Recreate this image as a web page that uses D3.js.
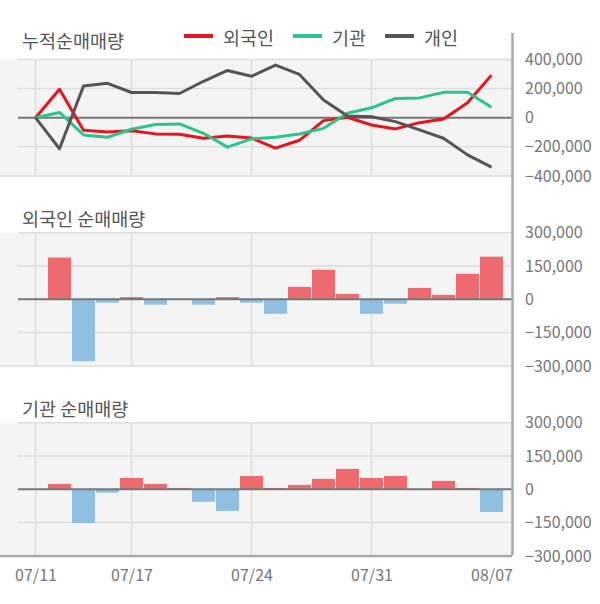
<!DOCTYPE html>
<html><head><meta charset="utf-8">
<script src="https://cdn.jsdelivr.net/npm/d3@7"></script>
<style>body{margin:0;background:#fff}svg{display:block}text{font-family:"Noto Sans CJK KR","Noto Sans",sans-serif}</style>
</head><body><svg id="c" width="600" height="604"></svg>
<script>
const dates = ["07/11","07/12","07/15","07/16","07/17","07/18","07/19","07/22","07/23","07/24","07/25","07/26","07/29","07/30","07/31","08/01","08/02","08/05","08/06","08/07"];
const tickDates = ["07/11","07/17","07/24","07/31","08/07"];
const gridDates = ["07/11","07/17","07/24","07/31"];
const foreignCum = [0,195000,-86000,-98000,-90000,-111000,-113000,-141000,-125000,-140000,-209000,-155000,-20000,3000,-50000,-77000,-34000,-9000,102000,292000];
const instCum = [0,36000,-118000,-134000,-79000,-47000,-43000,-107000,-202000,-145000,-134000,-112000,-73000,30000,68000,132000,136000,174000,174000,71000];
const indivCum = [0,-213000,217000,236000,173000,173000,166000,250000,324000,284000,361000,297000,121000,12000,7000,-27000,-84000,-141000,-255000,-339000];
const foreignNet = [null,188000,-279000,-15000,10000,-24000,null,-24000,10000,-15000,-65000,56000,133000,24000,-65000,-20000,51000,20000,115000,192000];
const instNet = [null,24000,-152000,-15000,51000,24000,6000,-56000,-97000,60000,6000,20000,47000,92000,51000,60000,null,38000,6000,-102000];
const topTicks = [400000,200000,0,-200000,-400000];
const barTicks = [300000,150000,0,-150000,-300000];
const seriesNames = ["외국인","기관","개인"];
const seriesColors = ["#e8141c","#2bc58b","#555555"];

const svg = d3.select("#c");
const x = d3.scalePoint().domain(dates).range([35.5, 491.5]);
const fmt = d3.format(",");
const gridC = "#dddddd", bg = "#f4f4f4", txtC = "#777";

function panel(y0, y1, yDomain, ticks, bottomStyle){
  const y = d3.scaleLinear().domain(yDomain).range([y1, y0]);
  const g = svg.append("g");
  g.append("rect").attr("x",0).attr("y",y0).attr("width",512).attr("height",y1-y0).attr("fill",bg);
  g.selectAll(".hg").data(ticks.filter(t=>t!==0 && t!==yDomain[0])).enter().append("line")
    .attr("x1",18).attr("x2",512).attr("y1",d=>y(d)).attr("y2",d=>y(d)).attr("stroke",gridC).attr("stroke-width",1.5);
  g.selectAll(".vg").data(gridDates).enter().append("line")
    .attr("x1",d=>x(d)).attr("x2",d=>x(d)).attr("y1",y0).attr("y2",y1).attr("stroke",gridC).attr("stroke-width",1.5);
  g.append("line").attr("x1",0).attr("x2",512).attr("y1",y1).attr("y2",y1)
    .attr("stroke",bottomStyle?"#aaa":gridC).attr("stroke-width",bottomStyle?2.5:1.5);
  const ax = d3.axisRight(y).tickValues(ticks).tickSize(0).tickPadding(0).tickFormat(d=>fmt(d));
  const ag = svg.append("g").attr("transform","translate(525,0)").call(ax);
  ag.select(".domain").remove();
  ag.selectAll("text").attr("fill",txtC).attr("font-size",16).attr("x",0);
  return {g,y};
}

svg.append("text").attr("x",22).attr("y",40).attr("dominant-baseline","central").attr("font-size",18.5).attr("fill","#555").text("누적순매매량");
svg.append("text").attr("x",22).attr("y",218).attr("dominant-baseline","central").attr("font-size",18.5).attr("fill","#555").text("외국인 순매매량");
svg.append("text").attr("x",22).attr("y",408).attr("dominant-baseline","central").attr("font-size",18.5).attr("fill","#555").text("기관 순매매량");

const legX = [184, 293, 385];
seriesNames.forEach((n,i)=>{
  svg.append("line").attr("x1",legX[i]).attr("x2",legX[i]+29).attr("y1",36).attr("y2",36).attr("stroke",seriesColors[i]).attr("stroke-width",4);
  svg.append("text").attr("x",legX[i]+39).attr("y",37).attr("dominant-baseline","central").attr("font-size",18.5).attr("fill","#555").text(n);
});

const p1 = panel(59.4, 176, [-400000,400000], topTicks, false);
p1.g.append("line").attr("x1",18).attr("x2",512).attr("y1",p1.y(0)).attr("y2",p1.y(0)).attr("stroke","#777").attr("stroke-width",2);
const line = d3.line().x((d,i)=>x(dates[i])).y(d=>p1.y(d));
[foreignCum, instCum, indivCum].forEach((s,i)=>{
  p1.g.append("path").datum(s).attr("d",line).attr("fill","none").attr("stroke",seriesColors[i]).attr("stroke-width",3).attr("stroke-linejoin","round");
});

function bars(p, vals){
  const bw = 23;
  p.g.selectAll(".b").data(vals.map((v,i)=>({v,d:dates[i]})).filter(o=>o.v!==null)).enter().append("rect")
    .attr("x",o=>x(o.d)-bw/2).attr("width",bw)
    .attr("y",o=>Math.min(p.y(o.v),p.y(0))).attr("height",o=>Math.abs(p.y(o.v)-p.y(0)))
    .attr("fill",o=>o.v>=0?"#ed6b6e":"#91bfe1");
  p.g.append("line").attr("x1",18).attr("x2",512).attr("y1",p.y(0)).attr("y2",p.y(0)).attr("stroke","#777").attr("stroke-width",2);
}
const p2 = panel(232.7, 365.9, [-300000,300000], barTicks, false);
bars(p2, foreignNet);
const p3 = panel(422.7, 555.9, [-300000,300000], barTicks, true);
bars(p3, instNet);
p3.g.select("rect").attr("height",554-422.7);

svg.append("line").attr("x1",512.5).attr("x2",512.5).attr("y1",33).attr("y2",555.5).attr("stroke","#aaa").attr("stroke-width",2.5);

const xa = d3.axisBottom(x).tickValues(tickDates).tickSize(0).tickPadding(0);
const xg = svg.append("g").attr("transform","translate(0,574)").call(xa);
xg.select(".domain").remove();
xg.selectAll("text").attr("fill",txtC).attr("font-size",16).attr("dy","0.45em");
</script></body></html>
